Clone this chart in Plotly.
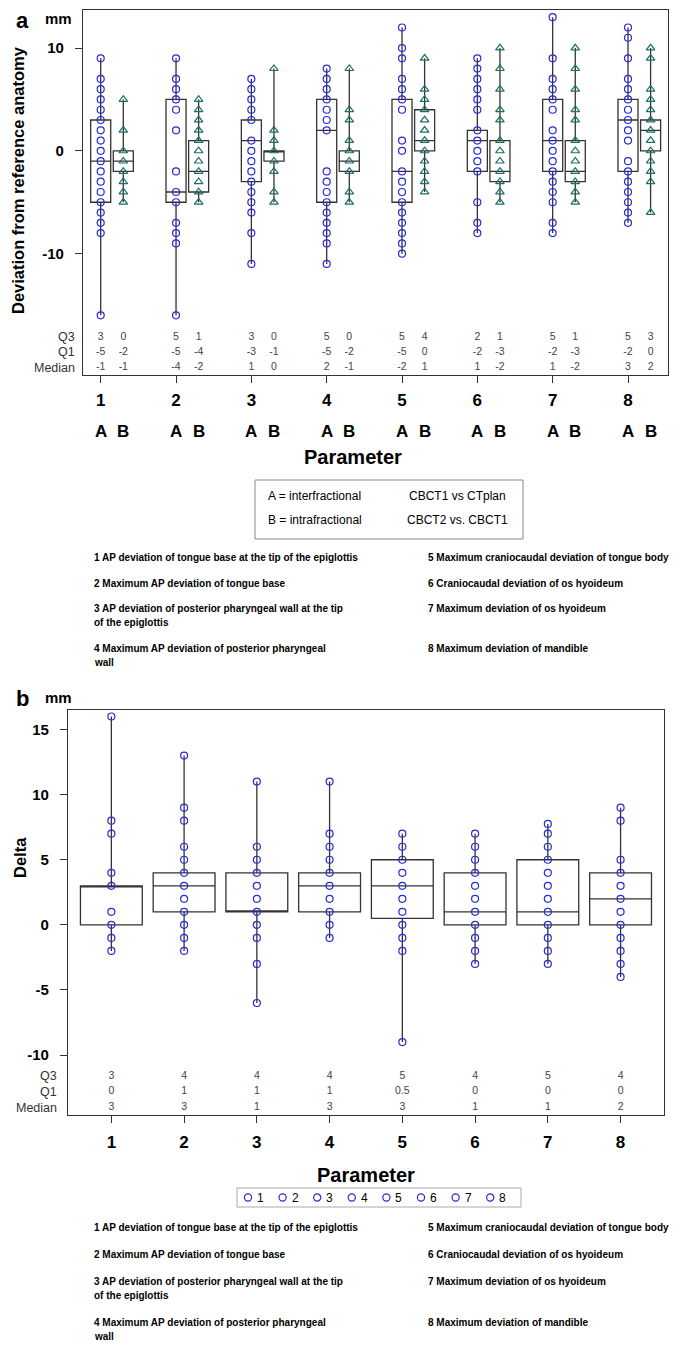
import plotly.graph_objects as go

W, H = 685, 1356

params = [1, 2, 3, 4, 5, 6, 7, 8]

# ---------------- Panel a data (mm) ----------------
a_A_vals = [
    [9, 7, 6, 5, 4, 3, 2, 1, 0, -1, -2, -3, -4, -5, -6, -7, -8, -16],
    [9, 7, 6, 5, 4, 2, -2, -4, -5, -7, -8, -9, -16],
    [7, 6, 5, 4, 3, 1, 0, -1, -2, -3, -4, -5, -6, -8, -11],
    [8, 7, 6, 5, 4, 3, 2, -2, -3, -4, -5, -6, -7, -8, -9, -11],
    [12, 10, 9, 7, 6, 5, 4, 1, 0, -2, -3, -4, -5, -6, -7, -8, -9, -10],
    [9, 8, 7, 6, 5, 4, 2, 1, 0, -1, -2, -5, -7, -8],
    [13, 9, 7, 6, 5, 4, 2, 1, 0, -1, -2, -3, -4, -5, -7, -8],
    [12, 11, 9, 7, 6, 5, 4, 3, 2, 1, -1, -2, -3, -4, -5, -6, -7],
]
a_B_vals = [
    [5, 2, 0, -1, -2, -3, -4, -5],
    [5, 4, 3, 2, 1, 0, -1, -2, -3, -4, -5],
    [8, 2, 1, 0, -1, -2, -4, -5],
    [8, 4, 3, 1, 0, -1, -2, -4, -5],
    [9, 6, 5, 4, 3, 2, 1, 0, -1, -2, -3, -4],
    [10, 8, 6, 4, 3, 1, 0, -1, -2, -3, -4, -5],
    [10, 8, 6, 4, 3, 1, 0, -1, -2, -3, -4, -5],
    [10, 9, 6, 5, 4, 3, 2, 1, 0, -1, -2, -3, -6],
]
a_A_q3 = [3, 5, 3, 5, 5, 2, 5, 5]
a_A_q1 = [-5, -5, -3, -5, -5, -2, -2, -2]
a_A_med = [-1, -4, 1, 2, -2, 1, 1, 3]
a_B_q3 = [0, 1, 0, 0, 4, 1, 1, 3]
a_B_q1 = [-2, -4, -1, -2, 0, -3, -3, 0]
a_B_med = [-1, -2, 0, -1, 1, -2, -2, 2]

# ---------------- Panel b data (Delta) ----------------
b_vals = [
    [16, 8, 7, 4, 3, 1, 0, -1, -2],
    [13, 9, 8, 6, 5, 4, 3, 2, 1, 0, -1, -2],
    [11, 6, 5, 4, 3, 2, 1, 0, -1, -3, -6],
    [11, 7, 6, 5, 4, 3, 2, 1, 0, -1],
    [7, 6, 5, 4, 3, 2, 1, 0, -1, -2, -9],
    [7, 6, 5, 4, 3, 2, 1, 0, -1, -2, -3],
    [7.75, 7, 6, 5, 4, 3, 2, 1, 0, -1, -2, -3],
    [9, 8, 5, 4, 3, 2, 1, 0, -1, -2, -3, -4],
]
b_q3 = [3, 4, 4, 4, 5, 4, 5, 4]
b_q1 = [0, 1, 1, 1, 0.5, 0, 0, 0]
b_med = [3, 3, 1, 3, 3, 1, 1, 2]

legend_b_labels = ["1", "2", "3", "4", "5", "6", "7", "8"]

descriptions_left = [
    ["1 AP deviation of tongue base at the tip of the epiglottis"],
    ["2 Maximum AP deviation of tongue base"],
    ["3 AP deviation of posterior pharyngeal wall at the tip", "of the epiglottis"],
    ["4 Maximum AP deviation of posterior pharyngeal", "wall"],
]
descriptions_right = [
    "5 Maximum craniocaudal deviation of tongue body",
    "6 Craniocaudal deviation of os hyoideum",
    "7 Maximum deviation of os hyoideum",
    "8 Maximum deviation of mandible",
]

# ---------------- styles ----------------
BLUE = "#2a2ad6"
TEAL = "#1d6f66"
BOXC = "#333333"
FONT = "Liberation Sans, Arial, sans-serif"
NARROW = "Liberation Sans Narrow, Arial Narrow, Liberation Sans, Arial, sans-serif"
B_OFF = 0.3


def fmt(v):
    return str(int(v)) if float(v).is_integer() else str(v)


def py(p):
    return 1 - p / H


def px(p):
    return p / W


fig = go.Figure()

posA = [p for p in params]
posB = [p + B_OFF for p in params]

# boxes panel a
for pos, vals, q1, med, q3 in [
    (posA, a_A_vals, a_A_q1, a_A_med, a_A_q3),
    (posB, a_B_vals, a_B_q1, a_B_med, a_B_q3),
]:
    fig.add_trace(go.Box(
        x=pos, q1=q1, median=med, q3=q3,
        lowerfence=[min(v) for v in vals], upperfence=[max(v) for v in vals],
        width=0.266, whiskerwidth=0, boxpoints=False,
        fillcolor="rgba(0,0,0,0)", line=dict(color=BOXC, width=1.3),
        showlegend=False, hoverinfo="skip", xaxis="x", yaxis="y",
    ))

# points panel a
for i, p in enumerate(params):
    fig.add_trace(go.Scatter(
        x=[posA[i]] * len(a_A_vals[i]), y=a_A_vals[i], mode="markers",
        marker=dict(symbol="circle-open", size=7, color=BLUE, line=dict(width=1.2, color=BLUE)),
        showlegend=False, xaxis="x", yaxis="y",
    ))
    fig.add_trace(go.Scatter(
        x=[posB[i]] * len(a_B_vals[i]), y=a_B_vals[i], mode="markers",
        marker=dict(symbol="triangle-up-open", size=7.5, color=TEAL, line=dict(width=1.2, color=TEAL)),
        showlegend=False, xaxis="x", yaxis="y",
    ))

# stat rows panel a
rows_a = [(-18.15, a_A_q3, a_B_q3), (-19.6, a_A_q1, a_B_q1), (-21.1, a_A_med, a_B_med)]
for yv, aa, bb in rows_a:
    fig.add_trace(go.Scatter(
        x=posA + posB, y=[yv] * 16, mode="text",
        text=[fmt(v) for v in aa] + [fmt(v) for v in bb],
        textfont=dict(family=NARROW, size=10.5, color="#444444"),
        showlegend=False, hoverinfo="skip", xaxis="x", yaxis="y",
    ))

# boxes panel b
fig.add_trace(go.Box(
    x=params, q1=b_q1, median=b_med, q3=b_q3,
    lowerfence=[min(v) for v in b_vals], upperfence=[max(v) for v in b_vals],
    width=0.85, whiskerwidth=0, boxpoints=False,
    fillcolor="rgba(0,0,0,0)", line=dict(color=BOXC, width=1.3),
    showlegend=False, hoverinfo="skip", xaxis="x2", yaxis="y2",
))
for i, p in enumerate(params):
    fig.add_trace(go.Scatter(
        x=[p] * len(b_vals[i]), y=b_vals[i], mode="markers", name=str(p),
        marker=dict(symbol="circle-open", size=7, color=BLUE, line=dict(width=1.2, color=BLUE)),
        showlegend=False, xaxis="x2", yaxis="y2",
    ))

rows_b = [(-11.6, b_q3), (-12.8, b_q1), (-14.05, b_med)]
for yv, vv in rows_b:
    fig.add_trace(go.Scatter(
        x=params, y=[yv] * 8, mode="text", text=[fmt(v) for v in vv],
        textfont=dict(family=NARROW, size=10.5, color="#444444"),
        showlegend=False, hoverinfo="skip", xaxis="x2", yaxis="y2",
    ))

axis_common = dict(showline=True, mirror=True, linecolor=BOXC, linewidth=1.2,
                   showgrid=False, zeroline=False, ticks="outside", tickcolor=BOXC,
                   ticklen=7, tickwidth=1.2)

fig.update_layout(
    width=W, height=H, margin=dict(l=0, r=0, t=0, b=0),
    paper_bgcolor="white", plot_bgcolor="white",
    font=dict(family=FONT, color="black"),
    showlegend=False,
    xaxis=dict(domain=[px(75), px(660)], range=[0.765, 8.531], tickvals=params,
               ticktext=[f"<b>{p}</b>" for p in params], ticklabelstandoff=2,
               tickfont=dict(family=NARROW, size=17), **axis_common),
    yaxis=dict(domain=[py(367), py(2)], range=[-21.8, 13.7], tickvals=[-10, 0, 10],
               ticktext=["<b>-10</b>", "<b>0</b>", "<b>10</b>"], ticklabelstandoff=8,
               tickfont=dict(family=FONT, size=15), **axis_common),
    xaxis2=dict(domain=[px(60), px(656)], range=[0.404, 8.597], tickvals=params,
                ticktext=[f"<b>{p}</b>" for p in params], ticklabelstandoff=4,
                tickfont=dict(family=NARROW, size=17), anchor="y2", **axis_common),
    yaxis2=dict(domain=[py(1107), py(702)], range=[-14.6, 16.5],
                tickvals=[-10, -5, 0, 5, 10, 15],
                ticktext=[f"<b>{v}</b>" for v in [-10, -5, 0, 5, 10, 15]], ticklabelstandoff=8,
                tickfont=dict(family=FONT, size=15), anchor="x2", **axis_common),
)

ann = []


def text(x, y, s, size=12, bold=False, xanchor="left", family=FONT, angle=0, color="black",
         xref="paper", yref="paper"):
    ann.append(dict(x=x, y=y, xref=xref, yref=yref, text=f"<b>{s}</b>" if bold else s,
                    showarrow=False, xanchor=xanchor, yanchor="middle", textangle=angle,
                    font=dict(family=family, size=size, color=color)))


# panel a labels
text(px(6), py(13), "a", size=22, bold=True)
text(px(35), py(10), "mm", size=15, bold=True)
text(px(10), py(172), "Deviation from reference anatomy", size=16.5, bold=True, xanchor="center", angle=-90)
for yv, lab in [(-18.15, "Q3"), (-19.6, "Q1"), (-21.1, "Median")]:
    text(px(69), yv, lab, size=12.5, xanchor="right", family=NARROW, color="#333333", yref="y")
for p in params:
    text(p, py(424), "A", size=17, bold=True, xanchor="center", family=NARROW, xref="x")
    text(p + B_OFF, py(424), "B", size=17, bold=True, xanchor="center", family=NARROW, xref="x")
text(px(345), py(449), "Parameter", size=20, bold=True, xanchor="center", family=NARROW)

# legend box panel a
shapes = [dict(type="rect", xref="paper", yref="paper", x0=px(247), x1=px(515), y0=py(531), y1=py(472),
               line=dict(color="#888888", width=1))]
text(px(258), py(488), "A = interfractional", size=12)
text(px(258), py(512), "B = intrafractional", size=12)
text(px(399), py(488), "CBCT1 vs CTplan", size=12)
text(px(397), py(512), "CBCT2 vs. CBCT1", size=12)


def descriptions(y_rows):
    for (lines, yv) in zip(descriptions_left, y_rows):
        for k, ln in enumerate(lines):
            text(px(84), py(yv + 14 * k), ln, size=10, bold=True)
    for s, yv in zip(descriptions_right, y_rows):
        text(px(418), py(yv), s, size=10, bold=True)


descriptions([549, 575, 600, 640])

# panel b labels
text(px(6), py(690), "b", size=22, bold=True)
text(px(35), py(689), "mm", size=15, bold=True)
text(px(12), py(850), "Delta", size=16.5, bold=True, xanchor="center", angle=-90)
for yv, lab in [(-11.6, "Q3"), (-12.8, "Q1"), (-14.05, "Median")]:
    text(px(51), yv, lab, size=12.5, xanchor="right", family=NARROW, color="#333333", yref="y2")
text(px(358), py(1167), "Parameter", size=20, bold=True, xanchor="center", family=NARROW)

# legend panel b (key for parameters 1-8)
shapes.append(dict(type="rect", xref="paper", yref="paper", x0=px(229), x1=px(513), y0=py(1199), y1=py(1180),
                   line=dict(color="#aaaaaa", width=1)))
for k, lab in enumerate(legend_b_labels):
    cx = 240 + 34.6 * k
    shapes.append(dict(type="circle", xref="paper", yref="paper",
                       x0=px(cx - 3.6), x1=px(cx + 3.6), y0=py(1189.5 + 3.6), y1=py(1189.5 - 3.6),
                       line=dict(color=BLUE, width=1.2)))
    text(px(cx + 7), py(1189.5), lab, size=12)

descriptions([1219, 1246, 1273, 1314])

fig.update_layout(annotations=ann, shapes=shapes)

fig.write_html("out.html")
